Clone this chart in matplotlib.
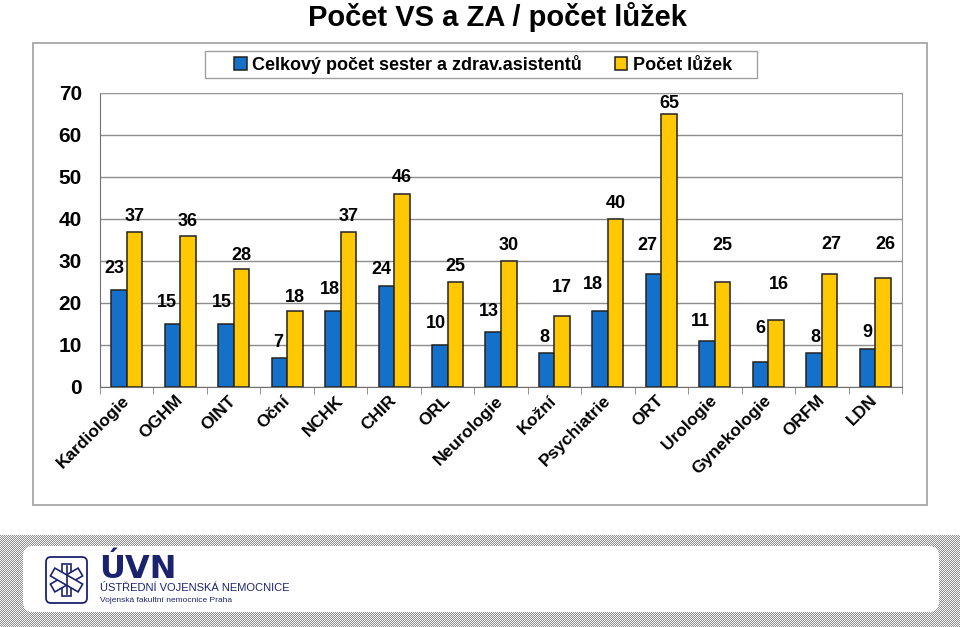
import numpy as np
import matplotlib
matplotlib.use("Agg")
import matplotlib.pyplot as plt
from matplotlib.patches import Rectangle, FancyBboxPatch

plt.rcParams['font.family'] = ['Liberation Sans', 'DejaVu Sans']

# data
categories = ['Kardiologie', 'OGHM', 'OINT', 'Oční', 'NCHK', 'CHIR', 'ORL', 'Neurologie',
              'Kožní', 'Psychiatrie', 'ORT', 'Urologie', 'Gynekologie', 'ORFM', 'LDN']
sestry = [23, 15, 15, 7, 18, 24, 10, 13, 8, 18, 27, 11, 6, 8, 9]
luzka = [37, 36, 28, 18, 37, 46, 25, 30, 17, 40, 65, 25, 16, 27, 26]
series_names = ['Celkový počet sester a zdrav.asistentů', 'Počet lůžek']

# label placement tweaks (value units up, pixels sideways), as in the original sheet
sestry_dy = [5.3, 5.2, 5.2, 3.7, 5.3, 3.9, 5.2, 4.9, 3.9, 6.5, 6.6, 4.5, 8.0, 3.7, 3.9]
sestry_dx = [-5, -6, -4, -1, -3, -5, -4, -4, -2, -7, -6, -7, 0, 1, 0]
luzka_dy = [3.7, 3.3, 3.4, 3.4, 3.7, 3.8, 3.6, 3.6, 6.6, 3.6, 2.4, 8.6, 8.3, 7.0, 8.0]
luzka_dx = [0, 0, 0, 0, 0, 0, 0, 0, 0, 0, 0, 0, 3, 2, 2]

W, H = 960, 627
fig = plt.figure(figsize=(W / 100, H / 100), dpi=100)

def fx(px):
    return px / W

def fy(py):
    return 1 - py / H

# outer chart frame
fig.patches.append(Rectangle((fx(33), fy(505)), fx(927) - fx(33), fy(43) - fy(505),
                             transform=fig.transFigure, fill=False, ec='#a0a0a0', lw=1.2))
# legend frame
fig.patches.append(Rectangle((fx(205), fy(78)), fx(757) - fx(205), fy(51) - fy(78),
                             transform=fig.transFigure, fill=False, ec='#a0a0a0', lw=1))

fig.text(fx(497), fy(17), 'Počet VS a ZA / počet lůžek', ha='center', va='center',
         fontsize=21, fontweight='bold')

ax = fig.add_axes([fx(100), fy(387), fx(902) - fx(100), fy(93) - fy(387)])
x = np.arange(len(categories))
bw = 0.29
blue = '#1470c8'
yellow = '#ffc800'
edge = '#222222'
b1 = ax.bar(x - bw / 2, sestry, bw, color=blue, edgecolor=edge, lw=1.1, zorder=3, label=series_names[0])
b2 = ax.bar(x + bw / 2, luzka, bw, color=yellow, edgecolor=edge, lw=1.1, zorder=3, label=series_names[1])

for i in range(len(categories)):
    ax.annotate(str(sestry[i]), (x[i] - bw / 2, sestry[i] + sestry_dy[i]),
                xytext=(sestry_dx[i] * 0.72, 0), textcoords='offset points',
                ha='center', va='center', fontsize=13, fontweight='bold', zorder=5)
    ax.annotate(str(luzka[i]), (x[i] + bw / 2, luzka[i] + luzka_dy[i]),
                xytext=(luzka_dx[i] * 0.72, 0), textcoords='offset points',
                ha='center', va='center', fontsize=13, fontweight='bold', zorder=5)

ax.set_xlim(-0.5, len(categories) - 0.5)
ax.set_ylim(0, 70)
ax.set_yticks(range(0, 71, 10))
ax.yaxis.grid(True, color='#8c8c8c', lw=1, zorder=0)
ax.tick_params(axis='y', length=0, pad=13, labelsize=15)
for lab in ax.get_yticklabels():
    lab.set_fontweight('bold')

ax.set_xticks(x)
ax.set_xticks(np.arange(-0.5, len(categories), 1), minor=True)
ax.tick_params(axis='x', which='major', length=0, pad=8)
ax.tick_params(axis='x', which='minor', length=5, color='#808080', direction='out')
ax.set_xticklabels(categories, rotation=45, ha='right', rotation_mode='anchor',
                   fontsize=12.5, fontweight='bold')
for lab in ax.get_xticklabels():
    lab.set_va('center')

for s in ['top', 'right']:
    ax.spines[s].set_color('#9a9a9a')
ax.spines['left'].set_color('#707070')
ax.spines['bottom'].set_color('#707070')

leg = fig.legend(handles=[b1, b2], labels=series_names, loc='center',
                 bbox_to_anchor=(fx(483), fy(64.5)), ncol=2, frameon=False,
                 handlelength=0.7, handleheight=0.7, handletextpad=0.3,
                 columnspacing=1.8, borderpad=0.3, borderaxespad=0,
                 prop={'size': 13, 'weight': 'bold'})

# footer with hospital logo
fax = fig.add_axes([0, 0, 1, fy(535)])
fax.set_xlim(0, W)
fax.set_ylim(H, 535)
fax.axis('off')
yy, xx = np.mgrid[0:92, 0:W]
checker = np.where((yy + xx) % 2 == 0, 0.55, 0.97)
fax.imshow(checker, cmap='gray', vmin=0, vmax=1, extent=(0, W, H, 535), interpolation='nearest', aspect='auto')
fax.add_patch(FancyBboxPatch((26, 549), 910, 60, boxstyle='round,pad=3,rounding_size=10',
                             fc='white', ec='none'))
navy = '#1c236e'
fax.add_patch(FancyBboxPatch((46, 557), 41, 46, boxstyle='round,pad=0,rounding_size=5',
                             fc='white', ec=navy, lw=1.3))
cx, cy = 66.5, 580
for ang in [90, 30, -30]:
    t = np.deg2rad(ang)
    d = np.array([np.cos(t), -np.sin(t)])
    n = np.array([-d[1], d[0]])
    L, w = 16, 4.5
    pts = [np.array([cx, cy]) + a * L * d + b * w * n for a, b in [(-1, -1), (1, -1), (1, 1), (-1, 1)]]
    fax.add_patch(plt.Polygon(pts, closed=True, fc='white', ec=navy, lw=1.2))
fax.plot([cx, cx], [566, 594], color=navy, lw=1.2)
fax.text(99, 569, 'ÚVN', ha='left', va='center', fontsize=23, fontweight='heavy',
         color=navy, family='DejaVu Sans')
fax.text(100, 588, 'ÚSTŘEDNÍ VOJENSKÁ NEMOCNICE', ha='left', va='center', fontsize=8, color=navy)
fax.text(100, 600, 'Vojenská fakultní nemocnice Praha', ha='left', va='center', fontsize=6, color=navy)

fig.savefig('out.png', dpi=100)
